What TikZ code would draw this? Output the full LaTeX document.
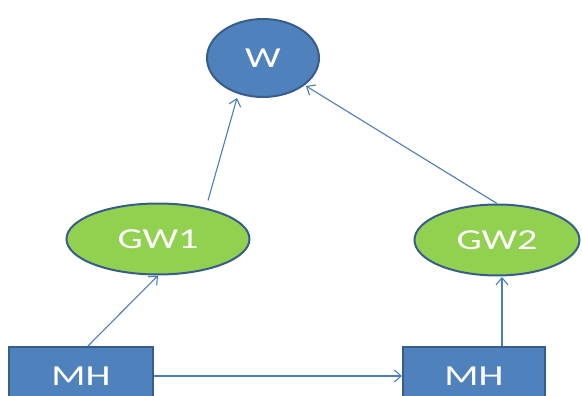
\documentclass[tikz,border=0pt]{standalone}
\usepackage{fontspec}
\setmainfont[FakeStretch=1.38]{Carlito}
\usetikzlibrary{arrows.meta,shapes.geometric}
\definecolor{bfill}{HTML}{4F81BD}
\definecolor{bdraw}{HTML}{385D8A}
\definecolor{gfill}{HTML}{92D050}
\definecolor{lnk}{HTML}{4A7EBB}
\tikzset{
  lbl/.style={text=white,font=\fontsize{29}{32}\selectfont,inner sep=0pt},
  bluell/.style={ellipse,draw=bdraw,fill=bfill,line width=2pt,lbl},
  greenell/.style={ellipse,draw=bdraw,fill=gfill,line width=2pt,lbl},
  mhbox/.style={rectangle,draw=bdraw,fill=bfill,line width=2pt,lbl},
  conn/.style={draw=lnk,line width=1.1pt,-{Straight Barb[length=7pt,width=12pt,line width=1.1pt]}}
}
\begin{document}
\begin{tikzpicture}[x=1pt,y=-1pt]
\useasboundingbox (0,0) rectangle (582,396);
\clip (0,0) rectangle (582,396);
\node[bluell,minimum width=112pt,minimum height=78pt] (w) at (263,58) {W};
\node[greenell,minimum width=183pt,minimum height=71pt] (gw1) at (158,239) {GW1};
\node[greenell,minimum width=165pt,minimum height=71pt] (gw2) at (497,240) {GW2};
\node[mhbox,minimum width=144pt,minimum height=58pt] (mh1) at (81,376) {MH};
\node[mhbox,minimum width=142pt,minimum height=58pt] (mh2) at (474,376) {MH};
\draw[conn] (mh1.north) ++(7,0) coordinate (a1) -- (gw1.south);
\draw[conn] (gw1.north) ++(50,-2) coordinate (a2) -- (237,98);
\draw[conn] (gw2.north) -- (306,86);
\draw[conn] (mh2.north) ++(28,0) coordinate (a3) -- (502,277);
\draw[conn] (mh1.east) -- (mh2.west);
\end{tikzpicture}
\end{document}
